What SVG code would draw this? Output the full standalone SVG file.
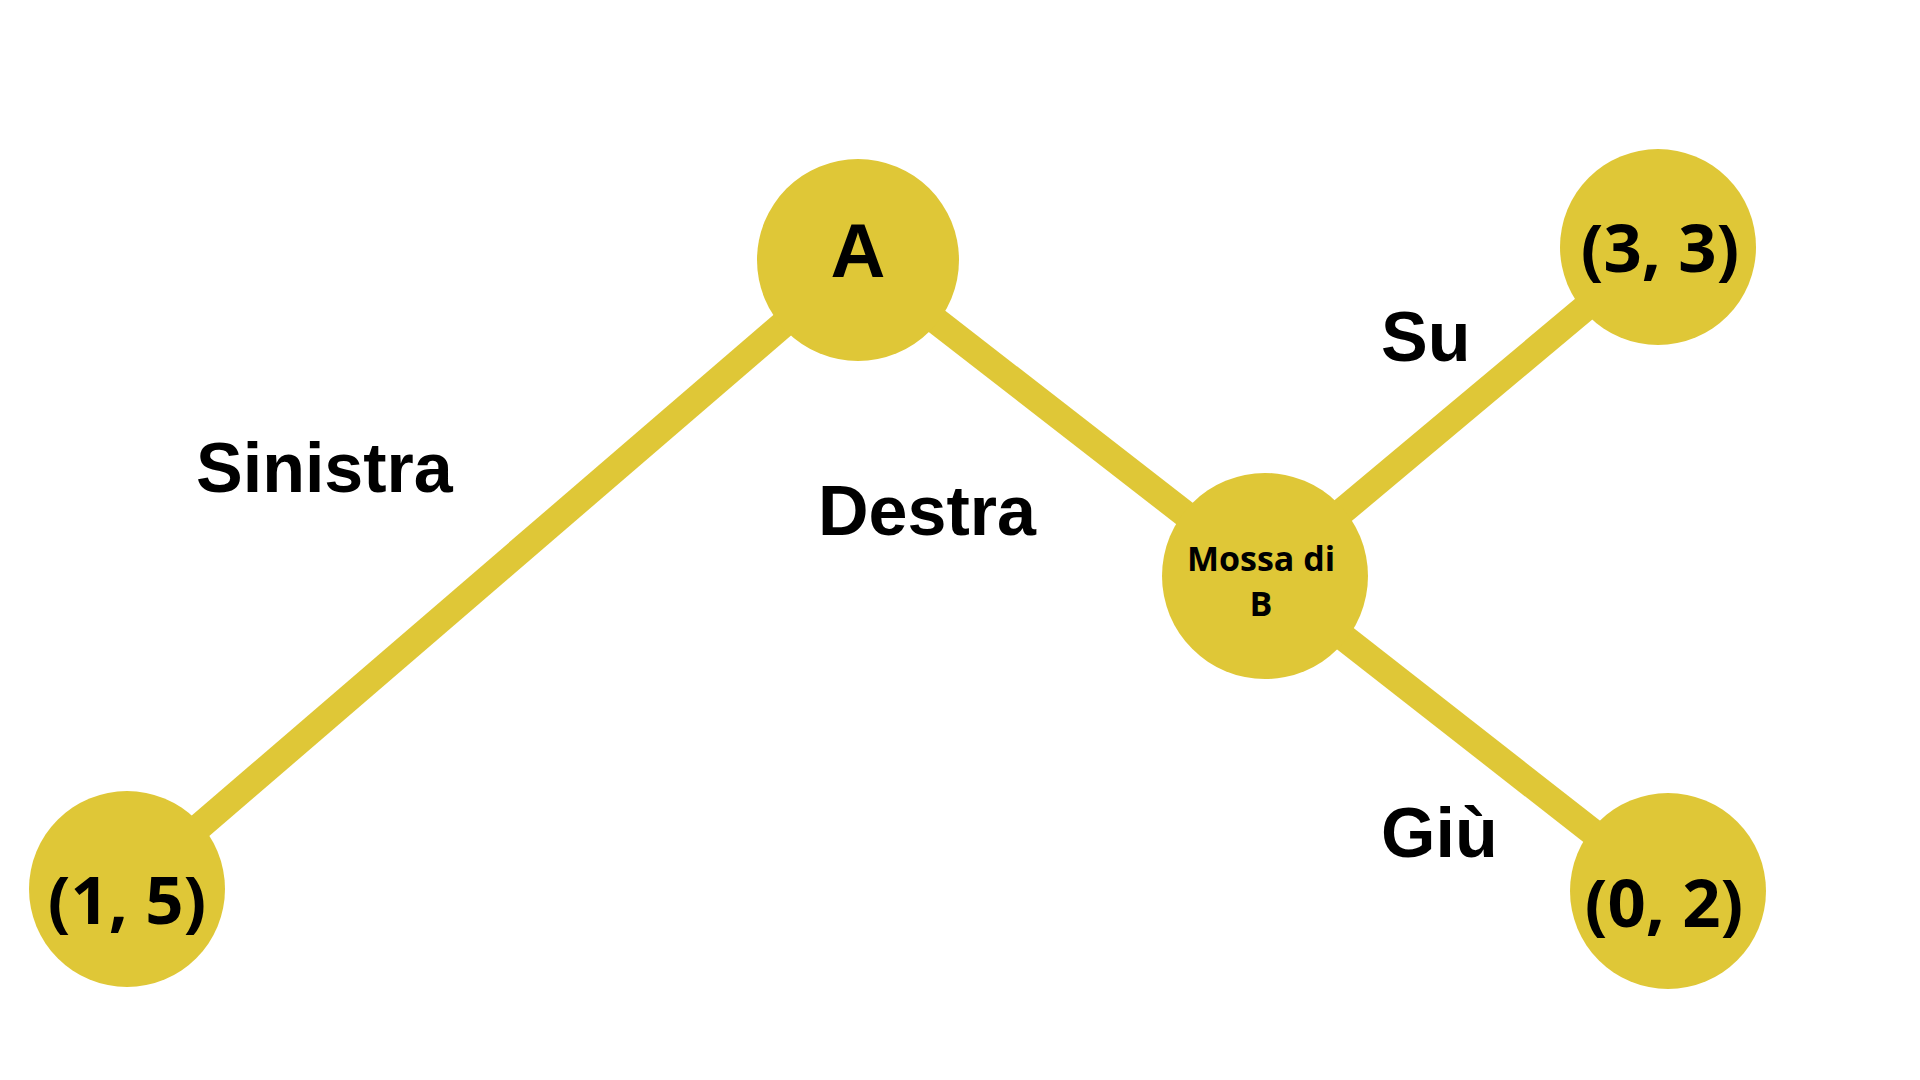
<svg xmlns="http://www.w3.org/2000/svg" width="1920" height="1080" viewBox="0 0 1920 1080">
<style>
.n{fill:#dfc737}
.e{stroke:#dfc737;stroke-width:27;fill:none}
.l{font-family:"Liberation Sans",Arial,sans-serif;font-weight:bold;font-size:70px;fill:#000}
.t{font-family:"Open Sans","Noto Sans",sans-serif;font-weight:bold;fill:#000;text-anchor:middle}
</style>
<rect width="1920" height="1080" fill="#fff"/>
<g id="connectors">
<line class="e" x1="858" y1="260" x2="127" y2="889"/>
<line class="e" x1="858" y1="260" x2="1265" y2="576"/>
<line class="e" x1="1265" y1="576" x2="1658" y2="247"/>
<line class="e" x1="1265" y1="576" x2="1668" y2="891"/>
</g>
<g id="labels">
<text class="l" x="196" y="492">Sinistra</text>
<text class="l" x="818" y="535">Destra</text>
<text class="l" x="1381" y="361">Su</text>
<text class="l" x="1381" y="857">Giù</text>
</g>
<g id="nodeA"><circle class="n" cx="858" cy="260" r="101"/><text class="l" x="858" y="277" text-anchor="middle" style="font-size:76px">A</text></g>
<g id="node33"><circle class="n" cx="1658" cy="247" r="98"/><text class="t" x="1660" y="272" font-size="67">(3, 3)</text></g>
<g id="nodeB"><circle class="n" cx="1265" cy="576" r="103"/><text class="t" x="1261" y="571" font-size="34">Mossa di</text><text class="t" x="1261" y="616" font-size="34">B</text></g>
<g id="node15"><circle class="n" cx="127" cy="889" r="98"/><text class="t" x="127" y="924" font-size="67">(1, 5)</text></g>
<g id="node02"><circle class="n" cx="1668" cy="891" r="98"/><text class="t" x="1664" y="927" font-size="67">(0, 2)</text></g>
</svg>
